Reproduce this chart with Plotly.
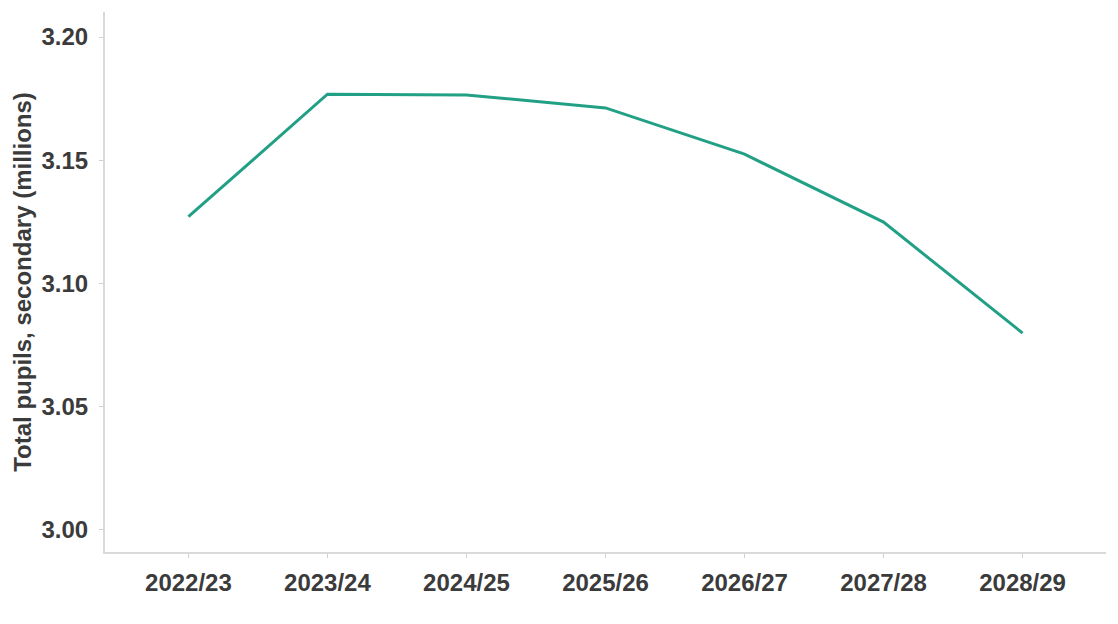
import plotly.graph_objects as go

years = ["2022/23", "2023/24", "2024/25", "2025/26", "2026/27", "2027/28", "2028/29"]
pupils = [3.127, 3.1768, 3.1765, 3.1712, 3.1524, 3.1248, 3.0797]
y_ticks = [3.00, 3.05, 3.10, 3.15, 3.20]

FONT = "Liberation Sans, Arial, sans-serif"
TEXT = "#3b3b3b"

fig = go.Figure(go.Scatter(
    x=years, y=pupils, mode="lines",
    line=dict(color="#22a086", width=3),
    hoverinfo="skip",
))

fig.update_layout(
    width=1118, height=624,
    margin=dict(l=105, r=12, t=12, b=72, autoexpand=False),
    paper_bgcolor="white", plot_bgcolor="white",
    showlegend=False,
    font=dict(family=FONT, size=24, color=TEXT),
)
fig.update_xaxes(
    type="category", range=[-0.6, 6.6], automargin=False,
    showgrid=False, zeroline=False,
    showline=True, linecolor="#d9d9d9", linewidth=2,
    ticks="outside", ticklen=4, tickcolor="#d0d0d0", tickwidth=1,
    tickfont=dict(family=FONT, size=24, color=TEXT, weight="bold"),
    ticklabelstandoff=4,
)
fig.update_yaxes(
    range=[2.9907, 3.2102], automargin=False,
    tickvals=y_ticks, ticktext=[f"{v:.2f}" for v in y_ticks],
    showgrid=False, zeroline=False,
    showline=True, linecolor="#d9d9d9", linewidth=2,
    ticks="outside", ticklen=4, tickcolor="#d0d0d0", tickwidth=1,
    tickfont=dict(family=FONT, size=24, color=TEXT, weight="bold"),
    ticklabelstandoff=6,
    title=dict(text="Total pupils, secondary (millions)",
               font=dict(family=FONT, size=24, color=TEXT, weight="bold"),
               standoff=3),
)

fig.write_html(
    "out.html",
    config={"displayModeBar": False},
    post_script="document.body.style.margin='0';document.body.style.overflow='hidden';",
)
